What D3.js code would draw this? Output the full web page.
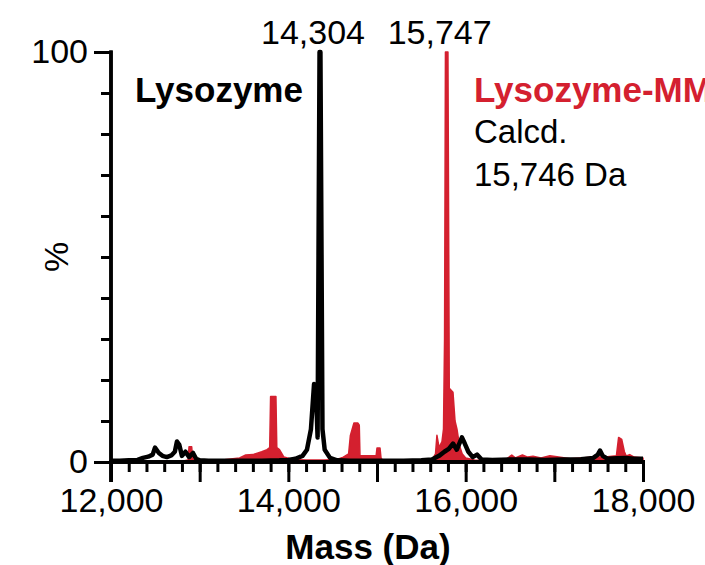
<!DOCTYPE html>
<html>
<head>
<meta charset="utf-8">
<script src="https://cdn.jsdelivr.net/npm/d3@7"></script>
<style>
  body { margin: 0; background: #fff; }
  svg text { font-family: "Liberation Sans", Arial, sans-serif; }
</style>
</head>
<body>
<div id="chart"></div>
<script>
// Chart size matches the window
let w = 705;
let h = 565;
// Axis ranges and ticks
let massDomain = [12000, 18000];
let pctDomain = [0, 100];
let xLabelTicks = [12000, 14000, 16000, 18000];
let xMajorTicks = [12000, 13000, 14000, 15000, 16000, 17000, 18000];
let xMinorTicks = d3.range(12000, 18001, 200);
let yMinorTicks = d3.range(0, 101, 10);
let yLabelTicks = [0, 100];
// Peak labels: [mass position, text]
let peakLabels = [[14357, "14,304"], [15786, "15,747"]];
// Lysozyme spectrum (black line): mass in Da and relative intensity in %
let lysozymeMass = [12000, 12100, 12200, 12300, 12360, 12420, 12470, 12496, 12540, 12580, 12630, 12680, 12720,
  12744, 12770, 12800, 12840, 12880, 12925, 12960, 13000, 13100, 13300, 13500, 13700, 13900, 14000, 14080,
  14160, 14210, 14255, 14290, 14312, 14330, 14352, 14362, 14385, 14410, 14470, 14550, 14700, 14900, 15100,
  15300, 15500, 15620, 15700, 15760, 15810, 15857, 15900, 15958, 15990, 16030, 16080, 16128, 16180, 16300,
  16500, 16700, 16900, 17100, 17300, 17440, 17490, 17515, 17545, 17600, 17700, 17800, 17900, 18000];
let lysozymeInt = [0.3, 0.3, 0.4, 0.5, 1.0, 1.3, 1.8, 3.5, 2.2, 1.5, 1.2, 1.6, 2.5,
  5.0, 4.2, 1.5, 2.5, 1.2, 2.2, 0.8, 0.4, 0.3, 0.3, 0.3, 0.3, 0.4, 0.5, 0.8,
  1.5, 3, 8, 19, 17, 6, 100, 100, 8, 3, 1, 0.4, 0.3, 0.3, 0.3,
  0.3, 0.4, 0.6, 1.5, 2.5, 3.2, 4.5, 3.0, 6.0, 4.5, 2.5, 1.2, 1.8, 0.6, 0.5,
  0.6, 0.6, 0.5, 0.6, 0.7, 1.0, 1.8, 2.8, 1.5, 0.8, 0.9, 1.0, 0.8, 0.8];
// Lysozyme-MM spectrum (red filled area)
let modifiedMass = [12000, 12800, 12870, 12880, 12910, 12920, 13000, 13200, 13300, 13450, 13520, 13600, 13700,
  13760, 13790, 13800, 13860, 13870, 13900, 13950, 14050, 14200, 14400, 14550, 14620, 14680, 14700, 14740,
  14785, 14800, 14808, 14830, 14900, 14990, 15000, 15034, 15045, 15060, 15100, 15300, 15500, 15620, 15660,
  15676, 15700, 15733, 15750, 15762, 15772, 15800, 15815, 15857, 15880, 15902, 15930, 15960, 16000, 16100,
  16300, 16450, 16520, 16560, 16640, 16700, 16760, 16850, 16950, 17050, 17180, 17300, 17450, 17600, 17700,
  17725, 17760, 17790, 17810, 17850, 17900, 18000];
let modifiedInt = [0.2, 0.2, 0.5, 3.7, 3.7, 0.8, 0.4, 0.3, 0.6, 1.0, 1.7, 1.8, 2.5,
  3.0, 3.5, 16, 16, 3.5, 3.0, 1.2, 0.6, 0.5, 0.5, 0.6, 1.2, 2.0, 6.5, 9.5,
  9.5, 9.0, 1.5, 1.5, 1.5, 1.5, 3.4, 3.4, 1.0, 0.5, 0.3, 0.3, 0.3, 0.6, 2.0,
  6.5, 3.5, 5.0, 8, 30, 100, 100, 18, 17, 10, 8, 4, 2, 1, 0.5,
  0.4, 0.6, 1.7, 1.0, 1.7, 1.2, 1.4, 1.0, 1.5, 1.2, 0.8, 1.0, 1.2, 1.3, 1.5,
  6.0, 5.5, 2.5, 1.5, 1.8, 1.2, 1.0];

let red = "#d4202f";
let lysozyme = lysozymeMass.map((m, i) => ({mass: m, pct: lysozymeInt[i]}));
let modified = modifiedMass.map((m, i) => ({mass: m, pct: modifiedInt[i]}));

// Scales
let xScale = d3.scaleLinear().domain(massDomain).range([111, 643]);
let yScale = d3.scaleLinear().domain(pctDomain).range([462, 52]);

let svg = d3.select("#chart").append("svg")
  .attr("width", w)
  .attr("height", h);

// Red spectrum drawn first so the black trace sits on top
let area = d3.area()
  .x(d => xScale(d.mass))
  .y0(yScale(0))
  .y1(d => yScale(d.pct));
svg.append("path")
  .datum(modified)
  .attr("d", area)
  .attr("fill", red)
  .attr("stroke", red)
  .attr("stroke-width", 1.5)
  .attr("stroke-linejoin", "round");

let line = d3.line()
  .x(d => xScale(d.mass))
  .y(d => yScale(d.pct));
svg.append("path")
  .datum(lysozyme)
  .attr("d", line)
  .attr("fill", "none")
  .attr("stroke", "#000")
  .attr("stroke-width", 4.5)
  .attr("stroke-linejoin", "round");

// X axis: minor ticks every 200, longer ticks every 1000, labels every 2000
let xAxisMinor = d3.axisBottom(xScale).tickValues(xMinorTicks).tickSize(10).tickFormat("");
let xAxisMajor = d3.axisBottom(xScale).tickValues(xMajorTicks).tickSize(20).tickFormat("");
let xAxisLabels = d3.axisBottom(xScale).tickValues(xLabelTicks).tickSize(0).tickPadding(26)
  .tickFormat(d3.format(","));
[xAxisMinor, xAxisMajor, xAxisLabels].forEach(ax => {
  let g = svg.append("g").attr("transform", "translate(0," + yScale(0) + ")").call(ax);
  g.selectAll("line").attr("stroke", "#000").attr("stroke-width", 3);
  g.select(".domain").attr("stroke", "#000").attr("stroke-width", 3.5).attr("d", "M109,0H645");
  g.selectAll("text").attr("font-size", "34px").attr("fill", "#000");
});

// Y axis
let yAxisMinor = d3.axisLeft(yScale).tickValues(yMinorTicks).tickSize(10).tickFormat("");
let yAxisMajor = d3.axisLeft(yScale).tickValues(yLabelTicks).tickSize(17).tickPadding(6);
[yAxisMinor, yAxisMajor].forEach(ax => {
  let g = svg.append("g").attr("transform", "translate(" + xScale(12000) + ",0)").call(ax);
  g.selectAll("line").attr("stroke", "#000").attr("stroke-width", 3);
  g.select(".domain").attr("stroke", "#000").attr("stroke-width", 3.5).attr("d", "M0,50.5V482");
  g.selectAll("text").attr("font-size", "34px").attr("fill", "#000");
});

// Axis titles
svg.append("text")
  .text("Mass (Da)")
  .attr("x", 368)
  .attr("y", 559)
  .attr("font-size", "35px")
  .attr("font-weight", "bold")
  .attr("text-anchor", "middle");
svg.append("text")
  .text("%")
  .attr("transform", "translate(68," + yScale(50) + ") rotate(-90)")
  .attr("font-size", "34px")
  .attr("text-anchor", "middle");

// Peak mass labels
svg.selectAll(".peak-label")
  .data(peakLabels)
  .enter()
  .append("text")
  .classed("peak-label", true)
  .text(d => d[1])
  .attr("x", d => xScale(d[0]) - 7)
  .attr("y", 44)
  .attr("font-size", "34px")
  .attr("text-anchor", "middle");

// Series names
svg.append("text")
  .text("Lysozyme")
  .attr("x", 135)
  .attr("y", 102)
  .attr("font-size", "35px")
  .attr("font-weight", "bold");
svg.append("text")
  .text("Lysozyme-MM")
  .attr("x", 474)
  .attr("y", 102)
  .attr("font-size", "35px")
  .attr("font-weight", "bold")
  .attr("fill", red);
let calc = svg.append("text").attr("font-size", "33px");
calc.append("tspan").attr("x", 474).attr("y", 143).text("Calcd.");
calc.append("tspan").attr("x", 474).attr("y", 186).text("15,746 Da");
</script>
</body>
</html>
